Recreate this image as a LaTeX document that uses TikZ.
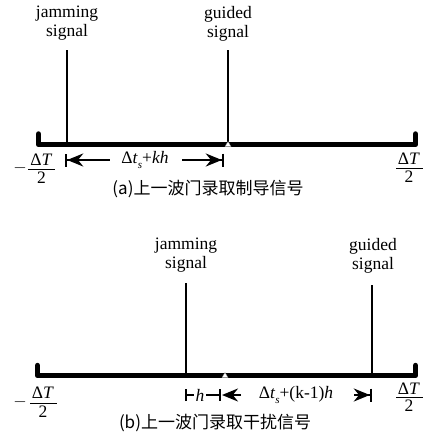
\documentclass[tikz,border=0pt]{standalone}
\usepackage{fontspec}
\setmainfont{Liberation Serif}
\newfontfamily\cjk{Noto Sans CJK SC}
\usetikzlibrary{arrows.meta}
\newcommand{\subs}{\raisebox{-5pt}{\fontsize{11}{11}\selectfont\textit{s}}}
\tikzset{
  lbl/.style={font=\fontsize{17.5}{19}\selectfont, align=center, inner sep=0pt},
  captxt/.style={font=\cjk\fontsize{17}{19}\selectfont, inner sep=0pt},
  sig/.style={line width=1.6pt},
  barline/.style={line width=5.5pt, line cap=round, line join=round},
  dimline/.style={line width=2.2pt},
  fracrule/.style={line width=0.9pt},
  tipL/.style={{Bar[width=13pt,line width=2.2pt]Stealth[length=16pt,width=13pt]}-},
  tipR/.style={-{Stealth[length=16pt,width=13pt]Bar[width=13pt,line width=2.2pt]}},
  tipBB/.style={{Bar[width=12pt,line width=2pt]}-{Bar[width=12pt,line width=2pt]}},
  mark0/.style={fill=white, draw=gray, line width=0.3pt}
}
\begin{document}
\begin{tikzpicture}[x=1pt,y=-1pt]
\useasboundingbox[fill=white] (0,0) rectangle (425,439);

% ---------- (a) ----------
\node[lbl] (ja) at (67,23.5) {jamming\\signal};
\node[lbl] (ga) at (228,23.5) {guided\\signal};
\coordinate (aL) at (38.5,134);
\coordinate (aL0) at (38.5,144.5);
\coordinate (aR0) at (415.5,144.5);
\coordinate (aR) at (415.5,134);
\coordinate (ja0) at (67,50);
\coordinate (ja1) at (67,144);
\coordinate (ga0) at (228,50);
\coordinate (ga1) at (228,144);
\draw[sig] (ja0) -- (ja1);
\draw[sig] (ga0) -- (ga1);
\draw[barline] (aL) -- (aL0) -- (aR0) -- (aR);
\draw[mark0] (225,146.5) -- (228,141.5) -- (231,146.5) -- cycle;

\coordinate (aa1) at (65,160);
\coordinate (aa2) at (110,160);
\coordinate (ab1) at (182,160);
\coordinate (ab2) at (224,160);
\draw[dimline,tipL] (aa1) -- (aa2);
\draw[dimline,tipR] (ab1) -- (ab2);
\node[lbl] (ta) at (145,160) {Δ\textit{t}\subs+\textit{kh}};
% left fraction (a)
\node[lbl] (mla) at (20,168) {$-$};
\node[lbl] (nla) at (41.5,160) {Δ\textit{T}};
\node[lbl] (dla) at (41.5,178) {2};
\draw[fracrule] (28,169) -- (55,169);
% right fraction (a)
\node[lbl] (nra) at (409,159) {Δ\textit{T}};
\node[lbl] (dra) at (409,177) {2};
\draw[fracrule] (396,168) -- (423,168);
\node[captxt] (capa) at (208,189) {(a)上一波门录取制导信号};

% ---------- (b) ----------
\node[lbl] (jb) at (186,255.5) {jamming\\signal};
\node[lbl] (gb) at (373,255.5) {guided\\signal};
\coordinate (bL) at (37.5,365.5);
\coordinate (bL0) at (37.5,375.5);
\coordinate (bR0) at (415.5,375.5);
\coordinate (bR) at (415.5,365.5);
\coordinate (jb0) at (186,283);
\coordinate (jb1) at (186,375);
\coordinate (gb0) at (372,285);
\coordinate (gb1) at (372,375);
\draw[sig] (jb0) -- (jb1);
\draw[sig] (gb0) -- (gb1);
\draw[barline] (bL) -- (bL0) -- (bR0) -- (bR);
\draw[mark0] (222,377.5) -- (225,372.5) -- (228,377.5) -- cycle;

\coordinate (ba1) at (185,395);
\coordinate (ba2) at (221,395);
\coordinate (bb1) at (241,395);
\coordinate (bb2) at (222,395);
\coordinate (bc1) at (354,395);
\coordinate (bc2) at (372,395);
\draw[line width=2pt,tipBB] (ba1) -- (ba2);
\node[lbl,fill=white,inner xsep=2pt] (hb) at (200,395) {\textit{h}};
\draw[dimline,-{Stealth[length=16pt,width=13pt]}] (bb1) -- (bb2);
\draw[dimline,tipR] (bc1) -- (bc2);
\node[lbl] (tb) at (296,395) {Δ\textit{t}\subs+(k-1)\textit{h}};
% left fraction (b)
\node[lbl] (mlb) at (20,402) {$-$};
\node[lbl] (nlb) at (43,393) {Δ\textit{T}};
\node[lbl] (dlb) at (43,412) {2};
\draw[fracrule] (30,403) -- (57,403);
% right fraction (b)
\node[lbl] (nrb) at (409,389) {Δ\textit{T}};
\node[lbl] (drb) at (409,406) {2};
\draw[fracrule] (396,397) -- (423,397);
\node[captxt] (capb) at (215,423) {(b)上一波门录取干扰信号};
\end{tikzpicture}
\end{document}
